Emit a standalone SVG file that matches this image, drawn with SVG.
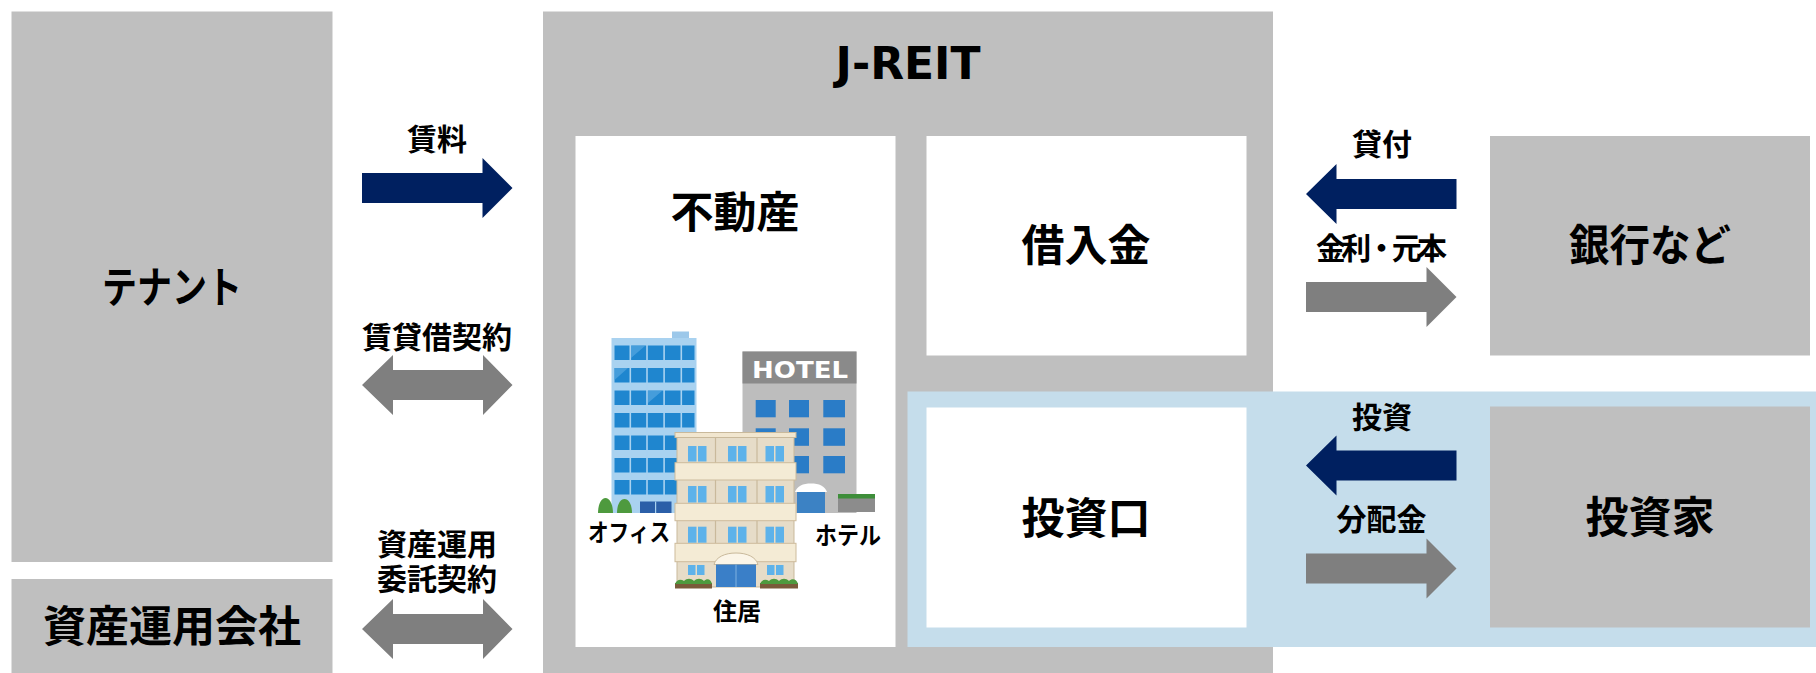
<svg xmlns="http://www.w3.org/2000/svg" xmlns:xlink="http://www.w3.org/1999/xlink" width="1816" height="673" viewBox="0 0 1816 673">
  <style>
    .box { fill: #BFBFBF; }
    .white { fill: #FFFFFF; }
    .band { fill: #C5DDEB; }
    .jp { font-family: "Noto Sans CJK JP", "Noto Sans CJK SC", sans-serif; font-weight: 700; fill: #000000; text-anchor: middle; }
    .big { font-size: 43px; }
    .small { font-size: 30px; }
    .tiny { font-size: 24px; }
    .latin { font-family: "DejaVu Sans", "Liberation Sans", sans-serif; font-weight: 700; text-anchor: middle; }
    .navy { fill: #002060; }
    .grey { fill: #7F7F7F; }
    .owin { fill: #1F86CF; }
    .hwin { fill: #2A7CC7; }
    .rwin { fill: #5DB2EA; }
    .beige { fill: #F4EBD5; stroke: #CDBB9C; stroke-width: 1; }
    .leaf { fill: #4E9A3E; }
  </style>
  <defs>
    <!-- block arrows drawn from their tail at x=0, centred on y=0 -->
    <path id="arrowR" d="M0,-15 H120.5 V-30 L150.5,0 L120.5,30 V15 H0 Z"/>
    <path id="arrowL" d="M0,0 L30.5,-30 V-15 H150.5 V15 H30.5 V30 Z"/>
    <path id="arrowLR" d="M0,0 L31,-30 V-15 H121 V-30 L150.5,0 L121,30 V15 H31 V30 Z"/>
  </defs>

  <rect width="1816" height="673" fill="#FFFFFF"/>

  <!-- J-REIT container -->
  <g id="jreit">
    <rect class="box" x="543" y="11.5" width="730" height="661.5"/>
    <text class="latin" x="908" y="79" font-size="44" fill="#000000">J-REIT</text>
  </g>

  <!-- investment band behind 投資口 and 投資家 -->
  <rect id="invest-band" class="band" x="907.5" y="391.5" width="908.5" height="255.5"/>

  <!-- tenants -->
  <g id="tenant">
    <rect class="box" x="11.5" y="11.5" width="321" height="550.5"/>
    <text class="jp big" x="172" y="303" textLength="140" lengthAdjust="spacingAndGlyphs">テナント</text>
  </g>

  <!-- asset manager -->
  <g id="asset-manager">
    <rect class="box" x="11.5" y="579" width="321" height="94"/>
    <text class="jp big" x="172" y="642">資産運用会社</text>
  </g>

  <!-- real estate -->
  <g id="real-estate">
    <rect class="white" x="575.5" y="136" width="320" height="511"/>
    <text class="jp big" x="735" y="228">不動産</text>

    <!-- office tower -->
    <g id="office">
      <rect x="672" y="331.5" width="17" height="7" fill="#9CC8EA"/>
      <rect x="611.5" y="338" width="85" height="175" fill="#A9D2F0"/>
      <g class="owin">
        <rect x="614.5" y="345.5" width="80" height="14.5"/>
        <rect x="614.5" y="368" width="80" height="14.5"/>
        <rect x="614.5" y="390.5" width="80" height="14.5"/>
        <rect x="614.5" y="413" width="80" height="14.5"/>
        <rect x="614.5" y="435.5" width="80" height="14.5"/>
        <rect x="614.5" y="458" width="80" height="14.5"/>
        <rect x="614.5" y="480" width="80" height="14.5"/>
      </g>
      <!-- mullions -->
      <g fill="#A9D2F0">
        <rect x="629.5" y="345" width="1.6" height="150"/>
        <rect x="646.2" y="345" width="1.6" height="150"/>
        <rect x="663.3" y="345" width="1.6" height="150"/>
        <rect x="680.5" y="345" width="1.6" height="150"/>
      </g>
      <g fill="#4FA3DF" opacity="0.8">
        <path d="M631,346 L645,346 L631,358 Z"/>
        <path d="M648,391 L662,391 L648,403 Z"/>
        <path d="M614.5,368 L628,368 L614.5,380 Z"/>
      </g>
      <rect x="640" y="501.5" width="31.5" height="11.5" fill="#2B5FA8"/>
      <rect x="655" y="501.5" width="1.2" height="11.5" fill="#A9D2F0"/>
      <path class="leaf" d="M598,513 C598,505 601,498 605.5,498 C610,498 613,505 613,513 Z"/>
      <path class="leaf" d="M617,513 C617,505 620,499 624.5,499 C629,499 632,505 632,513 Z"/>
    </g>

    <!-- hotel -->
    <g id="hotel">
      <rect x="742.5" y="351.5" width="114" height="161.5" fill="#BDBDBD"/>
      <rect x="742.5" y="351.5" width="114" height="32" fill="#8A8A8A"/>
      <text class="latin" x="800" y="377.5" font-size="22.5" fill="#FFFFFF" textLength="96" lengthAdjust="spacingAndGlyphs">HOTEL</text>
      <g class="hwin">
        <rect x="755.7" y="400" width="20" height="17.3"/>
        <rect x="789" y="400" width="20" height="17.3"/>
        <rect x="823.3" y="400" width="21.7" height="17.3"/>
        <rect x="755.7" y="428.3" width="20" height="17.5"/>
        <rect x="789" y="428.3" width="20" height="17.5"/>
        <rect x="823.3" y="428.3" width="21.7" height="17.5"/>
        <rect x="755.7" y="456" width="20" height="17.3"/>
        <rect x="789" y="456" width="20" height="17.3"/>
        <rect x="823.3" y="456" width="21.7" height="17.3"/>
      </g>
      <rect x="797" y="490" width="28" height="23" fill="#3C82C4"/>
      <path d="M795,492 C797,486 803,483.5 811,483.5 C819,483.5 825,486 827,492 Z" fill="#FFFFFF"/>
      <rect x="838" y="494" width="37" height="18" fill="#8C8C8C"/>
      <rect x="838" y="494" width="37" height="4.5" fill="#3E8E3A"/>
    </g>

    <!-- apartment block -->
    <g id="residence">
      <rect x="677" y="437" width="117" height="150" fill="#E6DCC8" stroke="#C9B99B" stroke-width="1"/>
      <rect x="675" y="432.5" width="121" height="5" fill="#F1E6CF" stroke="#C9B99B" stroke-width="1"/>
      <g stroke="#C9B99B" stroke-width="1.2">
        <line x1="715.5" y1="438" x2="715.5" y2="543"/>
        <line x1="757" y1="438" x2="757" y2="543"/>
      </g>
      <rect class="beige" x="675" y="462.7" width="121" height="17.3"/>
      <rect class="beige" x="675" y="503.3" width="121" height="17.4"/>
      <rect class="beige" x="675" y="543.3" width="121" height="18.4"/>
      <g class="rwin">
        <rect x="688" y="446" width="8.5" height="15.5"/><rect x="698" y="446" width="8.5" height="15.5"/>
        <rect x="728" y="446" width="8.5" height="15.5"/><rect x="738" y="446" width="8.5" height="15.5"/>
        <rect x="765.5" y="446" width="8.5" height="15.5"/><rect x="775.5" y="446" width="8.5" height="15.5"/>
        <rect x="688" y="486" width="8.5" height="16.5"/><rect x="698" y="486" width="8.5" height="16.5"/>
        <rect x="728" y="486" width="8.5" height="16.5"/><rect x="738" y="486" width="8.5" height="16.5"/>
        <rect x="765.5" y="486" width="8.5" height="16.5"/><rect x="775.5" y="486" width="8.5" height="16.5"/>
        <rect x="688" y="526.7" width="8.5" height="16"/><rect x="698" y="526.7" width="8.5" height="16"/>
        <rect x="728" y="526.7" width="8.5" height="16"/><rect x="738" y="526.7" width="8.5" height="16"/>
        <rect x="765.5" y="526.7" width="8.5" height="16"/><rect x="775.5" y="526.7" width="8.5" height="16"/>
        <rect x="688" y="565" width="7.5" height="10"/><rect x="697" y="565" width="7.5" height="10"/>
        <rect x="767" y="565" width="7.5" height="10"/><rect x="776" y="565" width="7.5" height="10"/>
      </g>
      <path d="M714,564.5 C716,557 725,553 736,553 C747,553 756,557 758,564.5 Z" fill="#FBF5E8" stroke="#C9B99B" stroke-width="1"/>
      <rect x="716" y="564.5" width="40" height="22.5" fill="#3A7FC8"/>
      <rect x="735.5" y="564.5" width="1" height="22.5" fill="#7FB2E0"/>
      <rect x="675" y="583" width="37" height="5.5" fill="#7A5A3A"/>
      <rect x="760" y="583" width="38" height="5.5" fill="#7A5A3A"/>
      <path class="leaf" d="M675,584 C677,579 681,579 684,581 C687,578 691,578 694,581 C697,578 701,578 704,581 C707,578 711,579 712,584 Z"/>
      <path class="leaf" d="M760,584 C762,579 766,579 769,581 C772,578 776,578 779,581 C782,578 786,578 789,581 C792,578 797,579 798,584 Z"/>
    </g>

    <text class="jp tiny" x="629" y="541" textLength="82" lengthAdjust="spacingAndGlyphs">オフィス</text>
    <text class="jp tiny" x="848" y="544" textLength="66" lengthAdjust="spacingAndGlyphs">ホテル</text>
    <text class="jp tiny" x="737" y="620" font-size="25">住居</text>
  </g>

  <!-- borrowings -->
  <g id="borrowings">
    <rect class="white" x="926.5" y="136" width="320" height="219.5"/>
    <text class="jp big" x="1086" y="261">借入金</text>
  </g>

  <!-- investment units -->
  <g id="units">
    <rect class="white" x="926.5" y="407.5" width="320" height="220"/>
    <text class="jp big" x="1086" y="534">投資口</text>
  </g>

  <!-- lenders -->
  <g id="banks">
    <rect class="box" x="1490" y="136" width="320" height="219.5"/>
    <text class="jp big" x="1650" y="261" textLength="162" lengthAdjust="spacingAndGlyphs">銀行など</text>
  </g>

  <!-- investors -->
  <g id="investors">
    <rect class="box" x="1490" y="406.5" width="320" height="221"/>
    <text class="jp big" x="1650" y="533">投資家</text>
  </g>

  <!-- flows between the parties -->
  <g id="connectors">
    <use xlink:href="#arrowR" class="navy" x="362" y="188"/>
    <use xlink:href="#arrowLR" class="grey" x="362" y="385"/>
    <use xlink:href="#arrowLR" class="grey" x="362" y="629"/>
    <use xlink:href="#arrowL" class="navy" x="1306" y="194"/>
    <use xlink:href="#arrowR" class="grey" x="1306" y="297"/>
    <use xlink:href="#arrowL" class="navy" x="1306" y="465.5"/>
    <use xlink:href="#arrowR" class="grey" x="1306" y="568.5"/>

    <text class="jp small" x="437" y="149.5">賃料</text>
    <text class="jp small" x="437" y="347.5">賃貸借契約</text>
    <text class="jp small"><tspan x="437" y="555">資産運用</tspan><tspan x="437" y="589.5">委託契約</tspan></text>
    <text class="jp small" x="1382" y="154.5">貸付</text>
    <text class="jp small" x="1381.5" y="259" textLength="131" lengthAdjust="spacing">金利・元本</text>
    <text class="jp small" x="1382" y="428">投資</text>
    <text class="jp small" x="1381.5" y="529.5">分配金</text>
  </g>
</svg>
